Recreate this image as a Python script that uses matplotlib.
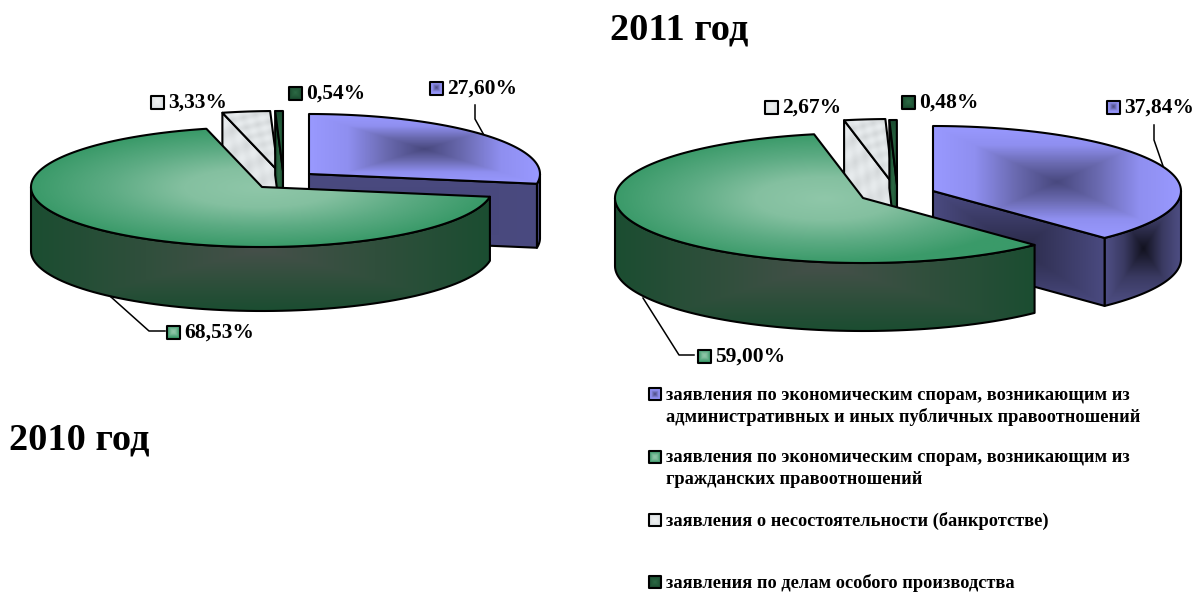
import numpy as np
import matplotlib
matplotlib.use("Agg")
import matplotlib.pyplot as plt
from matplotlib.colors import LinearSegmentedColormap
from matplotlib.patches import Polygon

# shares in percent, clockwise from 12 o'clock
values_2010 = [27.60, 68.53, 3.33, 0.54]
values_2011 = [37.84, 59.00, 2.67, 0.48]
title_2010 = "2010 год"
title_2011 = "2011 год"
legend_labels = [
    ["заявления по экономическим спорам, возникающим из",
     "административных и иных публичных правоотношений"],
    ["заявления по экономическим спорам, возникающим из",
     "гражданских правоотношений"],
    ["заявления о несостоятельности (банкротстве)"],
    ["заявления по делам особого производства"],
]

plt.rcParams['font.family'] = ['Liberation Serif', 'DejaVu Serif']
plt.rcParams['font.weight'] = 'bold'

fig = plt.figure(figsize=(12.01, 5.92), dpi=100)
ax = fig.add_axes([0, 0, 1, 1])
ax.set_xlim(0, 1201)
ax.set_ylim(592, 0)
ax.axis('off')
ax.set_autoscale_on(False)

LW = 1.5
blue_top = LinearSegmentedColormap.from_list('b', ['#48487e', '#6a6ab0', '#8f8ff0', '#9999ff'])
blue_face = LinearSegmentedColormap.from_list('bf', ['#2a2a48', '#4a4a80'])
blue_dark = LinearSegmentedColormap.from_list('bd', ['#12121f', '#3a3a62', '#4f4f85'])
blue_flat = LinearSegmentedColormap.from_list('bl', ['#47477a', '#4a4a80'])
green_top = LinearSegmentedColormap.from_list('g', ['#8fc7a9', '#84c0a0', '#5cab83', '#3a9a69'])
green_side = LinearSegmentedColormap.from_list('gs', ['#46504a', '#304f3c', '#1b4d31'])
dark_top = LinearSegmentedColormap.from_list('d', ['#2d6b45', '#1b4d31'])
white_tex = LinearSegmentedColormap.from_list('w', ['#bcc0c2', '#d8dcde', '#e8ecee'])
white_key = LinearSegmentedColormap.from_list('wk', ['#f0f2f2', '#dde1e3'])

zcount = [2]


def arc(cx, cy, a, b, t1, t2, n=80):
    t = np.radians(np.linspace(t1, t2, n))
    return np.column_stack([cx + a * np.cos(t), cy - b * np.sin(t)])


def fill(points, cmap, kind='rect'):
    points = np.asarray(points)
    x0, y0 = points.min(axis=0)
    x1, y1 = points.max(axis=0)
    xx, yy = np.meshgrid(np.linspace(-1, 1, int(x1 - x0) + 2),
                         np.linspace(-1, 1, int(y1 - y0) + 2))
    if kind == 'rect':
        t = np.maximum(np.abs(xx), np.abs(yy))
    elif kind == 'round':
        t = np.clip(np.sqrt(xx ** 2 + yy ** 2), 0, 1)
    else:
        # marble look of the bankruptcy slice
        t = 0.72 + 0.2 * np.sin(9 * xx + 7 * yy) * np.sin(5 * xx - 11 * yy) + 0.12 * np.sin(17 * yy + 4 * xx)
        t = np.clip(t, 0, 1)
    zcount[0] += 1
    im = ax.imshow(t, extent=(x0, x1, y1, y0), cmap=cmap, vmin=0, vmax=1,
                   aspect='auto', zorder=zcount[0], interpolation='bilinear')
    p = Polygon(points, closed=True, fc='none', ec='black', lw=LW, joinstyle='round', zorder=zcount[0] + 0.5)
    ax.add_patch(p)
    im.set_clip_path(p)


def side(cx, cy, a, b, h, t1, t2):
    top = arc(cx, cy, a, b, t1, t2)
    low = top[::-1] + [0, h]
    return np.vstack([top, low])


def draw_pie(values, cx, cy, a, b, h, off_blue, off_white, off_dark, dark_face):
    ang = 90 - np.cumsum([0] + values) * 3.6
    # purple slice, pulled out
    bx, by = cx + off_blue[0], cy + off_blue[1]
    end = np.array([bx + a * np.cos(np.radians(ang[1])), by - b * np.sin(np.radians(ang[1]))])
    fill(side(bx, by, a, b, h, ang[1], 0), blue_dark if dark_face else blue_flat)
    fill([[bx, by], end, end + [0, h], [bx, by + h]], blue_face if dark_face else blue_flat)
    fill(np.vstack([[bx, by], arc(bx, by, a, b, ang[0], ang[1])]), blue_top)
    # bankruptcy slice
    wx, wy = cx + off_white[0], cy + off_white[1]
    tip = arc(wx, wy, a, b, ang[2], ang[3], 12)
    fill([[wx, wy], tip[0], tip[0] + [0, h], [wx, wy + h]], white_tex, 'tex')
    fill(np.vstack([[wx, wy], tip]), white_tex, 'tex')
    # special proceedings slice
    dx, dy = cx + off_dark[0], cy + off_dark[1]
    tip = arc(dx, dy, a, b, ang[3], ang[4], 6)
    fill([[dx, dy], tip[0], tip[0] + [0, h], [dx, dy + h]], dark_top)
    fill(np.vstack([[dx, dy], tip]), dark_top)
    # civil disputes slice sits in front of the rest
    fill(side(cx, cy, a, b, h, ang[1], -180), green_side)
    fill(np.vstack([[cx, cy], arc(cx, cy, a, b, ang[1], ang[2], 200)]), green_top, 'round')


def pct(v):
    return f"{v:.2f}%".replace('.', ',')


def key(x, y, cmap, size=13):
    s = size / 2
    fill([[x - s, y - s], [x + s, y - s], [x + s, y + s], [x - s, y + s]], cmap)


def data_label(v, x, y, cmap):
    key(x, y, cmap)
    ax.text(x + 11, y + 1, pct(v), fontsize=15.5, va='center', ha='left', zorder=90)


def leader(xs, ys):
    ax.plot(xs, ys, color='black', lw=1.1, zorder=1)


draw_pie(values_2010, 262, 187, 231, 60, 64, (47, -13), (16, -16), (21, -16), False)
draw_pie(values_2011, 863, 198, 248, 65, 68, (70, -7), (30, -14), (34, -13), True)

key_cmaps = [blue_top, green_top, white_key, dark_top]

data_label(values_2010[0], 436, 88, key_cmaps[0])
data_label(values_2010[1], 173, 332, key_cmaps[1])
data_label(values_2010[2], 157, 102, key_cmaps[2])
data_label(values_2010[3], 295, 93, key_cmaps[3])
data_label(values_2011[0], 1113, 107, key_cmaps[0])
data_label(values_2011[1], 704, 356, key_cmaps[1])
data_label(values_2011[2], 771, 107, key_cmaps[2])
data_label(values_2011[3], 908, 102, key_cmaps[3])

leader([475, 475, 485], [105, 119, 137])
leader([111, 149, 165], [297, 331, 331])
leader([1154, 1154, 1163], [125, 140, 166])
leader([643, 679, 694], [298, 355, 355])

ax.text(610, 30, title_2011, fontsize=27.6, va='center', ha='left')
ax.text(9, 440, title_2010, fontsize=27.6, va='center', ha='left')

rows = [(395, 417), (458, 480), (521,), (583,)]
for lines, ys, c in zip(legend_labels, rows, key_cmaps):
    key(655, ys[0] - 1, c, 12)
    for line, y in zip(lines, ys):
        ax.text(666, y, line, fontsize=13.25, va='center', ha='left', zorder=90)

fig.savefig('out.png', dpi=100)
